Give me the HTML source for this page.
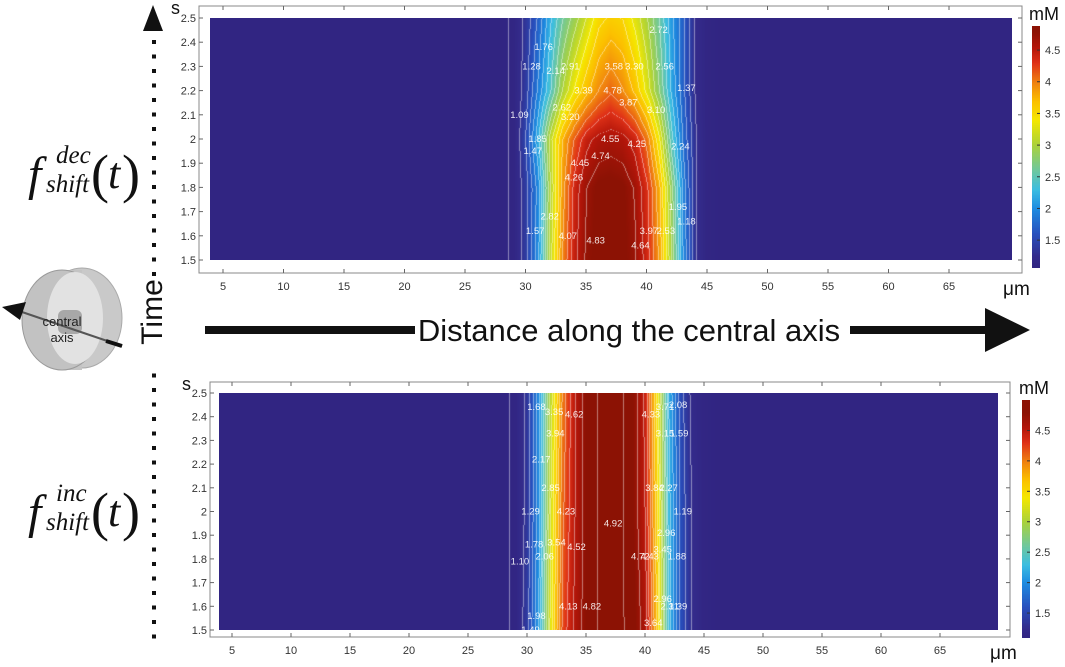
<!DOCTYPE html>
<html><head><meta charset="utf-8">
<style>
body{margin:0;background:#fff;width:1065px;height:667px;overflow:hidden;position:relative;font-family:"Liberation Sans",sans-serif}
canvas{position:absolute}
svg{position:absolute;left:0;top:0}
</style></head>
<body>
<canvas id="c1"></canvas>
<canvas id="c2"></canvas>
<canvas id="cb1"></canvas>
<canvas id="cb2"></canvas>
<svg id="s" width="1065" height="667">
  <polygon points="153,5 143,31 163,31" fill="#111"/>
  <g id="dots"></g>
  <text x="0" y="0" transform="translate(162,312) rotate(-90)" font-size="30" text-anchor="middle" fill="#111">Time</text>
  <g font-family="Liberation Serif, serif" font-style="italic" fill="#111">
    <text x="28" y="190" font-size="48">f</text>
    <text x="56" y="163" font-size="25">dec</text>
    <text x="46" y="192" font-size="25">shift</text>
    <text x="91" y="192" font-size="54" font-style="normal">(</text>
    <text x="108" y="188" font-size="44">t</text>
    <text x="122" y="192" font-size="54" font-style="normal">)</text>
  </g>
  <g font-family="Liberation Serif, serif" font-style="italic" fill="#111">
    <text x="28" y="528" font-size="48">f</text>
    <text x="56" y="501" font-size="25">inc</text>
    <text x="46" y="530" font-size="25">shift</text>
    <text x="91" y="530" font-size="54" font-style="normal">(</text>
    <text x="108" y="526" font-size="44">t</text>
    <text x="122" y="530" font-size="54" font-style="normal">)</text>
  </g>
  <g>
    <ellipse cx="82" cy="318" rx="40" ry="50" fill="#c9c9c9" stroke="#aaa"/>
    <rect x="62" y="270" width="20" height="100" fill="#c4c4c4"/>
    <ellipse cx="62" cy="320" rx="40" ry="50" fill="#c2c2c2" stroke="#9a9a9a"/>
    <ellipse cx="75" cy="318" rx="28" ry="46" fill="#e2e2e2"/>
    <rect x="58" y="310" width="24" height="24" fill="#a8a8a8" rx="6"/>
    <line x1="122" y1="346" x2="22" y2="312" stroke="#555" stroke-width="2"/>
    <line x1="106" y1="341" x2="122" y2="346" stroke="#111" stroke-width="4"/>
    <polygon points="2,307 26,302 20,320" fill="#111"/>
    <text x="62" y="326" font-size="13" text-anchor="middle" fill="#222">central</text>
    <text x="62" y="342" font-size="13" text-anchor="middle" fill="#222">axis</text>
  </g>
  <g>
    <rect x="205" y="326" width="210" height="8" fill="#111"/>
    <text x="629" y="341" font-size="31" text-anchor="middle" fill="#111">Distance along the central axis</text>
    <rect x="850" y="326" width="140" height="8" fill="#111"/>
    <polygon points="985,308 1030,330 985,352" fill="#111"/>
  </g>
  <g id="g1"></g><g id="g2"></g>
</svg>
<script>
const xCols=[28,29,30,31,32,33,34,35,36,37,38,39,40,41,42,43,44,45,46];
const decTimes=[1.5,1.8,2.0,2.2,2.5];
const decRow15=[1.08,1.1,1.4,2.0,3.1,3.95,4.45,4.75,4.85,4.86,4.84,4.72,4.4,3.9,3.0,2.0,1.3,1.1,1.08];
const decRow18=[1.08,1.1,1.4,1.95,3.0,3.85,4.4,4.7,4.83,4.85,4.82,4.68,4.35,3.8,2.9,1.95,1.3,1.1,1.08];
const decRow20=[1.08,1.1,1.5,2.2,3.1,3.75,4.15,4.45,4.58,4.62,4.58,4.42,4.05,3.4,2.5,1.8,1.3,1.1,1.08];
const decRow22=[1.08,1.1,1.4,1.9,2.4,3.0,3.4,3.7,3.95,4.1,3.95,3.7,3.3,2.8,2.2,1.7,1.25,1.1,1.08];
const decRow25=[1.08,1.1,1.35,1.7,2.2,2.6,2.9,3.2,3.5,3.6,3.55,3.3,3.0,2.6,2.1,1.7,1.25,1.1,1.08];
const incTimes=[1.5,2.0,2.5];
const incRow15=[1.08,1.1,1.4,2.1,3.3,4.2,4.55,4.8,4.9,4.92,4.9,4.85,4.6,3.7,2.3,1.6,1.25,1.1,1.08];
const incRow20=[1.08,1.1,1.35,2.0,3.2,4.1,4.5,4.8,4.9,4.92,4.9,4.8,4.5,3.6,2.3,1.6,1.25,1.1,1.08];
const incRow25=[1.08,1.1,1.35,2.0,3.1,4.0,4.5,4.8,4.9,4.92,4.9,4.8,4.45,3.5,2.2,1.55,1.2,1.1,1.08];
const xTicks=[5,10,15,20,25,30,35,40,45,50,55,60,65];
const yTicks=[1.5,1.6,1.7,1.8,1.9,2,2.1,2.2,2.3,2.4,2.5];
const cbTicks=[1.5,2,2.5,3,3.5,4,4.5];
const decLabels=[["2.72",41,2.45],["1.76",31.5,2.38],["1.28",30.5,2.3],["2.14",32.5,2.28],["2.91",33.7,2.3],["3.58",37.3,2.3],["3.30",39,2.3],["2.56",41.5,2.3],["1.37",43.3,2.21],["2.62",33,2.13],["3.39",34.8,2.2],["4.78",37.2,2.2],["3.87",38.5,2.15],["3.10",40.8,2.12],["1.09",29.5,2.1],["3.20",33.7,2.09],["1.85",31,2.0],["4.55",37,2.0],["4.25",39.2,1.98],["2.24",42.8,1.97],["1.47",30.6,1.95],["4.74",36.2,1.93],["4.45",34.5,1.9],["4.26",34,1.84],["1.95",42.6,1.72],["2.82",32,1.68],["1.18",43.3,1.66],["1.57",30.8,1.62],["3.97",40.2,1.62],["2.53",41.6,1.62],["4.07",33.5,1.6],["4.83",35.8,1.58],["4.64",39.5,1.56]];
const incLabels=[["1.68",30.8,2.44],["3.35",32.3,2.42],["4.62",34,2.41],["4.33",40.5,2.41],["3.71",41.7,2.44],["2.08",42.8,2.45],["3.94",32.4,2.33],["3.15",41.7,2.33],["1.59",42.9,2.33],["2.17",31.2,2.22],["2.85",32,2.1],["3.84",40.8,2.1],["2.27",42,2.1],["1.29",30.3,2.0],["4.23",33.3,2.0],["1.19",43.2,2.0],["4.92",37.3,1.95],["2.96",41.8,1.91],["1.78",30.6,1.86],["3.54",32.5,1.87],["4.52",34.2,1.85],["3.45",41.5,1.84],["4.72",39.6,1.81],["4.43",40.4,1.81],["2.06",31.5,1.81],["1.88",42.7,1.81],["1.10",29.4,1.79],["2.96",41.5,1.63],["4.13",33.5,1.6],["4.82",35.5,1.6],["2.31",42.1,1.6],["1.39",42.8,1.6],["1.98",30.8,1.56],["3.64",40.7,1.53],["1.49",30.3,1.5]];
const cmap=[[1.0,[48,34,126]],[1.25,[52,44,140]],[1.6,[40,80,190]],[2.0,[30,140,225]],[2.3,[60,190,225]],[2.6,[110,200,160]],[3.0,[170,210,60]],[3.4,[245,232,0]],[3.7,[252,192,0]],[4.0,[240,128,16]],[4.3,[224,50,24]],[4.55,[180,22,10]],[4.8,[140,18,4]]];
function col(v){if(v<=cmap[0][0])return cmap[0][1];for(let i=1;i<cmap.length;i++){if(v<=cmap[i][0]){const a=cmap[i-1],b=cmap[i],t=(v-a[0])/(b[0]-a[0]);return a[1].map((c,k)=>c+(b[1][k]-c)*t);}}return cmap[cmap.length-1][1];}
function interp(arr,xs,x){if(x<=xs[0])return arr[0];if(x>=xs[xs.length-1])return arr[arr.length-1];for(let i=1;i<xs.length;i++)if(x<=xs[i]){const t=(x-xs[i-1])/(xs[i]-xs[i-1]);return arr[i-1]+(arr[i]-arr[i-1])*t;}}
const NS="http://www.w3.org/2000/svg";
function mk(g,tag,attrs,txt){const e=document.createElementNS(NS,tag);for(const k in attrs)e.setAttribute(k,attrs[k]);if(txt!==undefined)e.textContent=txt;g.appendChild(e);return e;}
function plot(o){
  const sx=x=>o.x5+(x-5)*o.kx, sy=t=>o.yTop+(2.5-t)*(o.yBot-o.yTop);
  const cv=document.getElementById(o.cid);const L=Math.round(sx(o.xmin)),R=Math.round(sx(o.xmax));
  const W=R-L,H=o.yBot-o.yTop;cv.width=W;cv.height=H;cv.style.left=L+'px';cv.style.top=o.yTop+'px';
  const ctx=cv.getContext('2d');const img=ctx.createImageData(W,H);
  const step=0.19;
  for(let j=0;j<H;j++){const t=2.5-j/H;
    let r=0;while(r<o.times.length-2&&t>o.times[r+1])r++;
    const ft=Math.max(0,Math.min(1,(t-o.times[r])/(o.times[r+1]-o.times[r])));
    const row=o.rows[r].map((v,k)=>v+(o.rows[r+1][k]-v)*ft);
    let prevLev=null;
    for(let i=0;i<W;i++){const x=o.xmin+(i+0.5)/o.kx;const v=interp(row,xCols,x);
      let c=col(v);const lev=Math.floor((v-1.09)/step);
      if(prevLev!==null&&lev!==prevLev&&v>1.09){c=c.map(q=>q+(255-q)*0.45);}
      prevLev=lev;const p=(j*W+i)*4;img.data[p]=c[0];img.data[p+1]=c[1];img.data[p+2]=c[2];img.data[p+3]=255;}
  }
  ctx.putImageData(img,0,0);
  const g=document.getElementById(o.gid);
  const fr=mk(g,'rect',{x:o.fL,y:o.fT,width:o.fR-o.fL,height:o.fB-o.fT,fill:'none',stroke:'#888','stroke-width':1});
  
  
  xTicks.forEach(v=>{const x=sx(v);
    mk(g,'line',{x1:x,x2:x,y1:o.fB,y2:o.fB-4,stroke:'#666'});mk(g,'line',{x1:x,x2:x,y1:o.fT,y2:o.fT+4,stroke:'#666'});
    const tx=mk(g,'text',{x:x,y:o.fB+17,'font-size':11,'text-anchor':'middle',fill:'#333'},String(v));
    
    });
  yTicks.forEach(v=>{const y=sy(v);
    mk(g,'line',{x1:o.fL,x2:o.fL+4,y1:y,y2:y,stroke:'#666'});mk(g,'line',{x1:o.fR,x2:o.fR-4,y1:y,y2:y,stroke:'#666'});
    const tx=mk(g,'text',{x:o.fL-3,y:y+4,'font-size':11,'text-anchor':'end',fill:'#333'},String(v));
    
    });
  const s=mk(g,'text',{x:o.fL-28,y:o.fT+8,'font-size':18,fill:'#111'},'s');
  
  
  const um=mk(g,'text',{x:o.umX,y:o.fB+22,'font-size':19,fill:'#111'},'μm');
  
  
  o.labels.forEach(l=>{const t=mk(g,'text',{x:sx(l[1]),y:sy(l[2])+3,'font-size':9.5,'text-anchor':'middle',fill:'#fff','fill-opacity':0.9},l[0]);
    
    });
  const cb=document.getElementById(o.cbid);cb.width=o.cbW;cb.height=o.cbB-o.cbT;cb.style.left=o.cbX+'px';cb.style.top=o.cbT+'px';
  const cc=cb.getContext('2d');const ch=o.cbB-o.cbT;
  for(let j=0;j<ch;j++){const v=o.cbMax-(j/ch)*(o.cbMax-o.cbMin);const c=col(v);cc.fillStyle=`rgb(${c[0]|0},${c[1]|0},${c[2]|0})`;cc.fillRect(0,j,o.cbW,1);}
  const cbs=v=>o.cbT+(o.cbMax-v)/(o.cbMax-o.cbMin)*ch;
  cbTicks.forEach(v=>{const y=cbs(v);mk(g,'line',{x1:o.cbX+o.cbW-3,x2:o.cbX+o.cbW,y1:y,y2:y,stroke:'#333'});
    const t=mk(g,'text',{x:o.cbX+o.cbW+5,y:y+4,'font-size':11,fill:'#333'},String(v));
    
    });
  const mm=mk(g,'text',{x:o.cbX-3,y:o.cbT-6,'font-size':18,fill:'#111'},'mM');
  
  
}
plot({cid:'c1',gid:'g1',cbid:'cb1',x5:223,kx:12.1,xmin:3.9,xmax:70.2,yTop:18,yBot:260,fL:199,fR:1022,fT:6,fB:273,umX:1003,
  times:decTimes,rows:[decRow15,decRow18,decRow20,decRow22,decRow25],labels:decLabels,cbX:1032,cbW:8,cbT:26,cbB:268,cbMin:1.06,cbMax:4.88});
plot({cid:'c2',gid:'g2',cbid:'cb2',x5:232,kx:11.8,xmin:3.9,xmax:69.9,yTop:393,yBot:630,fL:210,fR:1010,fT:382,fB:637,umX:990,
  times:incTimes,rows:[incRow15,incRow20,incRow25],labels:incLabels,cbX:1022,cbW:8,cbT:400,cbB:638,cbMin:1.09,cbMax:5.0});
const dg=document.getElementById('dots');
for(let y=40;y<645;y+=14.5){if(y>280&&y<372)continue;mk(dg,'rect',{x:152,y:y,width:4,height:4,fill:'#111'});}
</script>
</body></html>
